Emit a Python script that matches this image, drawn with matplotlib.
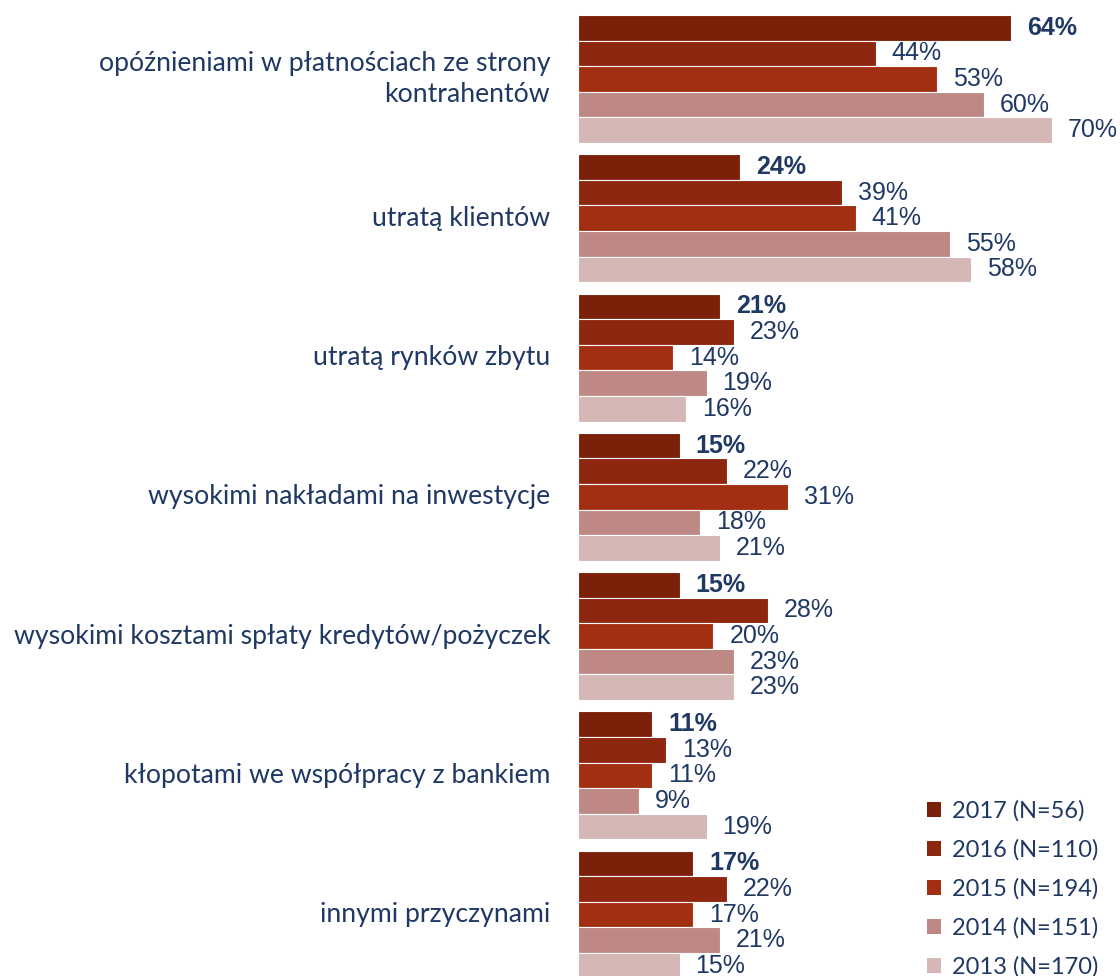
import numpy as np
import matplotlib.pyplot as plt
from matplotlib.patches import Patch

categories = [
    "opóźnieniami w płatnościach ze strony\nkontrahentów",
    "utratą klientów",
    "utratą rynków zbytu",
    "wysokimi nakładami na inwestycje",
    "wysokimi kosztami spłaty kredytów/pożyczek",
    "kłopotami we współpracy z bankiem",
    "innymi przyczynami",
]
years = ["2017 (N=56)", "2016 (N=110)", "2015 (N=194)", "2014 (N=151)", "2013 (N=170)"]
v2017 = [64, 24, 21, 15, 15, 11, 17]
v2016 = [44, 39, 23, 22, 28, 13, 22]
v2015 = [53, 41, 14, 31, 20, 11, 17]
v2014 = [60, 55, 19, 18, 23, 9, 21]
v2013 = [70, 58, 16, 21, 23, 19, 15]
series = [v2017, v2016, v2015, v2014, v2013]
colors = ["#7B2109", "#8E2710", "#A22F12", "#BE8984", "#D5B7B5"]
navy = "#1F3864"

W, H = 1120, 976
fig = plt.figure(figsize=(W / 100, H / 100), dpi=100)
ax = fig.add_axes([578 / W, 0, 1 - 578 / W, 1])

bar_px = 25.6
pitch = 5.44  # group spacing in bar heights
top_px = 15
ax.set_xlim(0, (W - 578) / 6.77)
ax.set_ylim((H - top_px) / bar_px, -top_px / bar_px)
ax.axis("off")

for j, (vals, col) in enumerate(zip(series, colors)):
    y = np.arange(len(categories)) * pitch + j + 0.5
    bars = ax.barh(y, vals, height=1.0, color=col, edgecolor="white", linewidth=0.8)
    for rect, v in zip(bars, vals):
        ax.annotate(f"{v}%", (rect.get_width(), rect.get_y() + 0.5),
                    xytext=(11.5, 0), textcoords="offset points",
                    va="center", ha="left", fontsize=18, color=navy,
                    family="Liberation Sans",
                    fontweight="bold" if j == 0 else "normal")

for i, cat in enumerate(categories):
    ax.annotate(cat, (0, i * pitch + 2.5), xytext=(-20, 0), textcoords="offset points",
                ha="right", va="center", fontsize=19.2, color=navy,
                family="Lato", linespacing=1.27, annotation_clip=False)

handles = [Patch(facecolor=c, edgecolor="none") for c in colors]
leg = fig.legend(handles, years, loc="upper left", bbox_to_anchor=(910 / W, 1 - 784 / H),
                 frameon=False, handlelength=0.62, handleheight=0.62, handletextpad=0.45,
                 labelspacing=0.74, borderpad=0.2, prop={"family": "Lato", "size": 17})
for t in leg.get_texts():
    t.set_color(navy)

fig.savefig("out.png", dpi=100)
